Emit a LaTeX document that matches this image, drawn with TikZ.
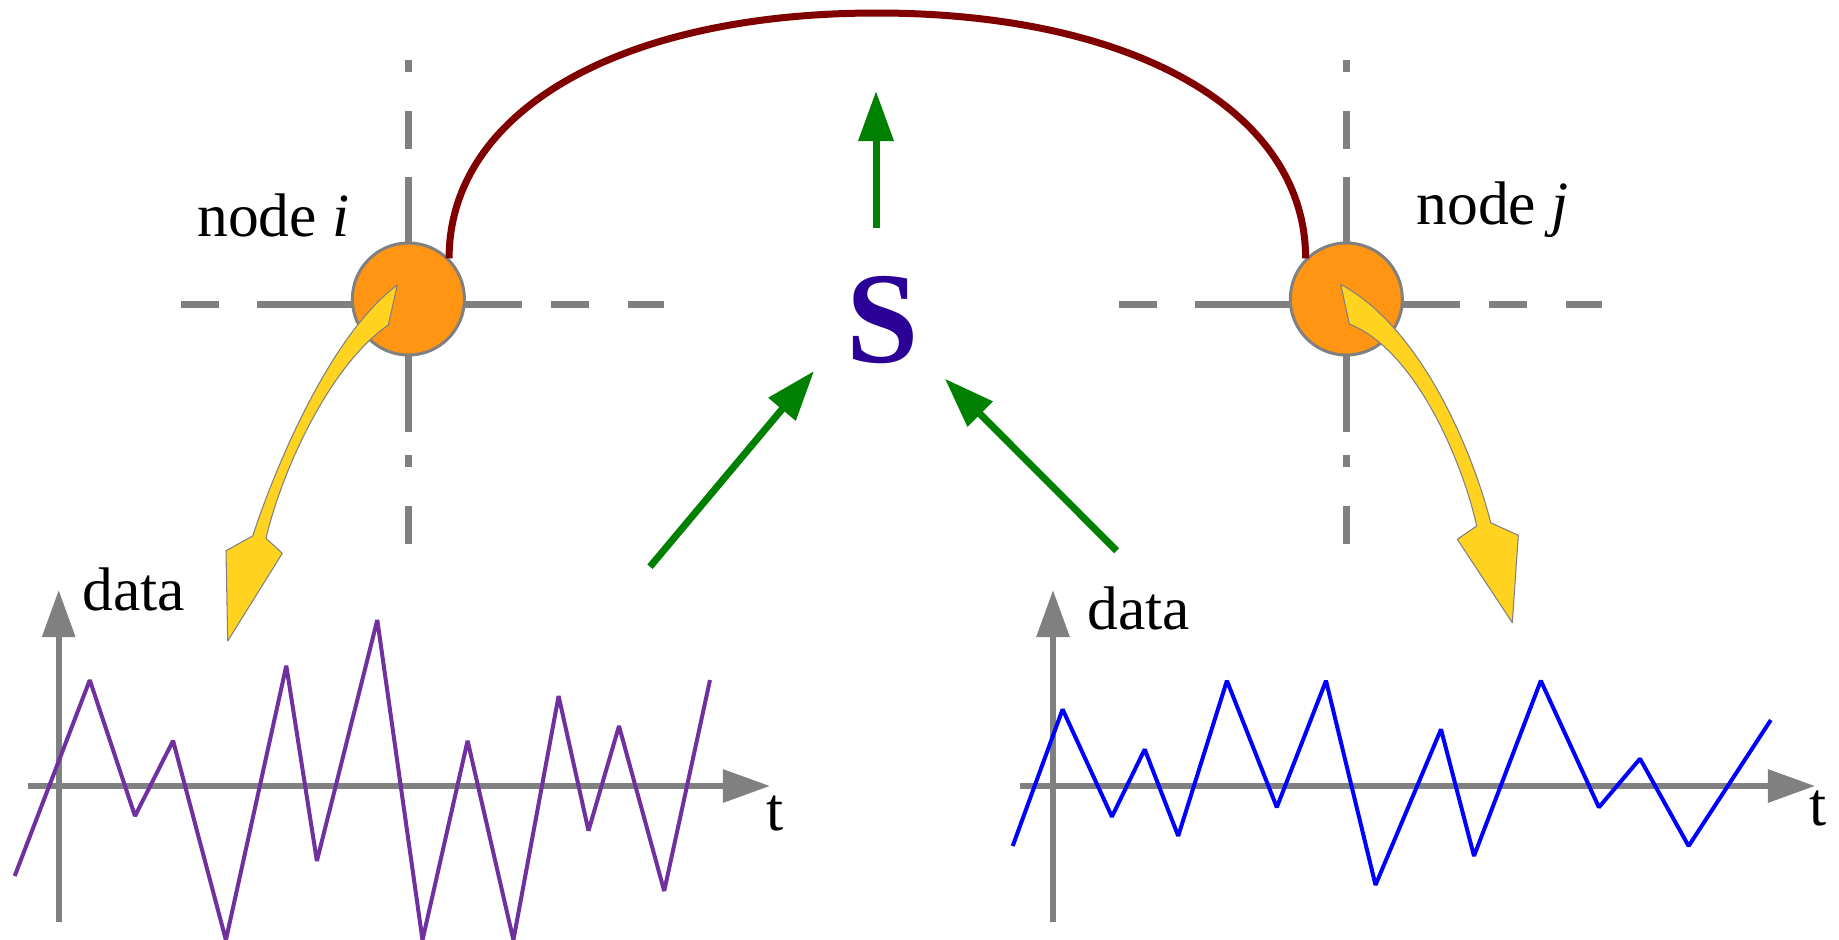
\documentclass[tikz,border=0pt]{standalone}
\usepackage{fontspec}
\setmainfont{Liberation Serif}
\usetikzlibrary{arrows.meta}
\definecolor{axisgray}{HTML}{808080}
\definecolor{nodefill}{HTML}{FF9512}
\definecolor{flowfill}{HTML}{FFD320}
\definecolor{linkred}{HTML}{800000}
\definecolor{scoreblue}{HTML}{2A0096}
\definecolor{updgreen}{HTML}{008000}
\definecolor{seriesi}{HTML}{7030A0}
\definecolor{seriesj}{HTML}{0000FF}
\tikzset{
  crossline/.style={axisgray,line width=0.07cm},
  pics/nodecross/.style={code={
    \draw[crossline] (-151,0) -- (114,0) (0,-127.4) -- (0,127.6);
    \foreach \a/\b in {-227.4/-189.4,143/181,220/256}
      \draw[crossline] (\a,0) -- (\b,0);
    \foreach \a/\b in {-244.7/-232.4,-194/-155.4,150.3/162,201/239.3}
      \draw[crossline] (0,\a) -- (0,\b);
  }}
}
\begin{document}
\begin{tikzpicture}[x=0.01cm,y=-0.01cm,
  lbl/.style={font=\fontsize{17.5}{20}\selectfont,inner sep=0,anchor=base west},
  vertex/.style={circle,fill=nodefill,draw=axisgray,line width=0.03cm,minimum size=1.12cm,inner sep=0},
  axisline/.style={axisgray,line width=0.06cm,-{Triangle[length=0.47cm,width=0.32cm]}},
  upd/.style={updgreen,line width=0.07cm,-{Triangle[length=0.5cm,width=0.34cm]}},
  flow/.style={fill=flowfill,draw=axisgray,line width=0.3pt,line join=round},
  sig/.style={line width=0.04cm,line join=bevel}]
  \useasboundingbox (0,0) rectangle (1839,939);

  \pic at (408.4,304.7) {nodecross};
  \pic at (1346.3,304.7) {nodecross};
  \node[vertex] (ni) at (408.4,299) {};
  \node[vertex] (nj) at (1346.3,299) {};
  \node[lbl] (li) at (196.6,236.7) {node \textit{i}};
  \node[lbl] (lj) at (1415.8,224) {node \textit{j}};

  \coordinate (arctop) at (876.9,13);
  \draw[linkred,line width=0.07cm] (ni.45) .. controls +(0,-147) and +(-257,0) .. (arctop)
    .. controls +(257,0) and +(0,-147) .. (nj.135);

  \filldraw[flow] (397.3,285) -- (388.3,325) .. controls (330,365) and (282,470) .. (266,538.3)
    -- (282.3,553.3) -- (227.7,641) -- (226,550.7) -- (252.7,536)
    .. controls (275,468) and (330,335) .. (397.3,285) -- cycle;
  \filldraw[flow] (1340.7,284.3) -- (1349.3,324) .. controls (1415,350) and (1462,460) .. (1476.7,526)
    -- (1457.3,539.3) -- (1512.3,622.7) -- (1518.3,535.3) -- (1490.7,522.7)
    .. controls (1475,460) and (1425,330) .. (1340.7,284.3) -- cycle;

  \node[font=\fontsize{37}{40}\selectfont\bfseries,text=scoreblue,inner sep=0] (S) at (882.5,320) {S};
  \coordinate (ini) at (650,566.7);
  \coordinate (inj) at (1116.6,550.7);
  \coordinate (out) at (876,91);
  \draw[upd,shorten >=0.49cm] (ini) -- (S.200);
  \draw[upd,shorten >=0.36cm] (inj) -- (S.318);
  \draw[upd,shorten <=0.48cm] (S.north -| out) -- (out);

  \draw[axisline] (58.7,921.7) -- (58.7,590);
  \draw[axisline] (28,786) -- (770,786);
  \draw[sig,seriesi] plot coordinates {(14.7,876) (89.8,680) (135,816) (173.1,740.7) (225.9,940)
    (286.3,665.7) (316.9,861) (377.3,620) (422.5,940) (467.6,740.7) (513.4,940) (558.6,696)
    (588.5,830.7) (619,726) (664.2,891) (710,680)};
  \node[lbl] (di) at (82,610) {data};
  \node[lbl] (ti) at (766,830) {t};

  \draw[axisline] (1053,921.7) -- (1053,590);
  \draw[axisline] (1019.8,786) -- (1815,786);
  \draw[sig,seriesj] plot coordinates {(1012.7,846) (1062.6,709.3) (1111.9,816.7) (1144.7,749.3)
    (1178.2,836) (1226.9,680.7) (1276.8,807.3) (1326,680.7) (1375.5,885) (1441,729.3)
    (1474,856) (1540.8,680.7) (1598.9,807.3) (1640,758.7) (1688.6,846) (1770.8,720)};
  \node[lbl] (dj) at (1087,629) {data};
  \node[lbl] (tj) at (1809,825) {t};
\end{tikzpicture}
\end{document}
